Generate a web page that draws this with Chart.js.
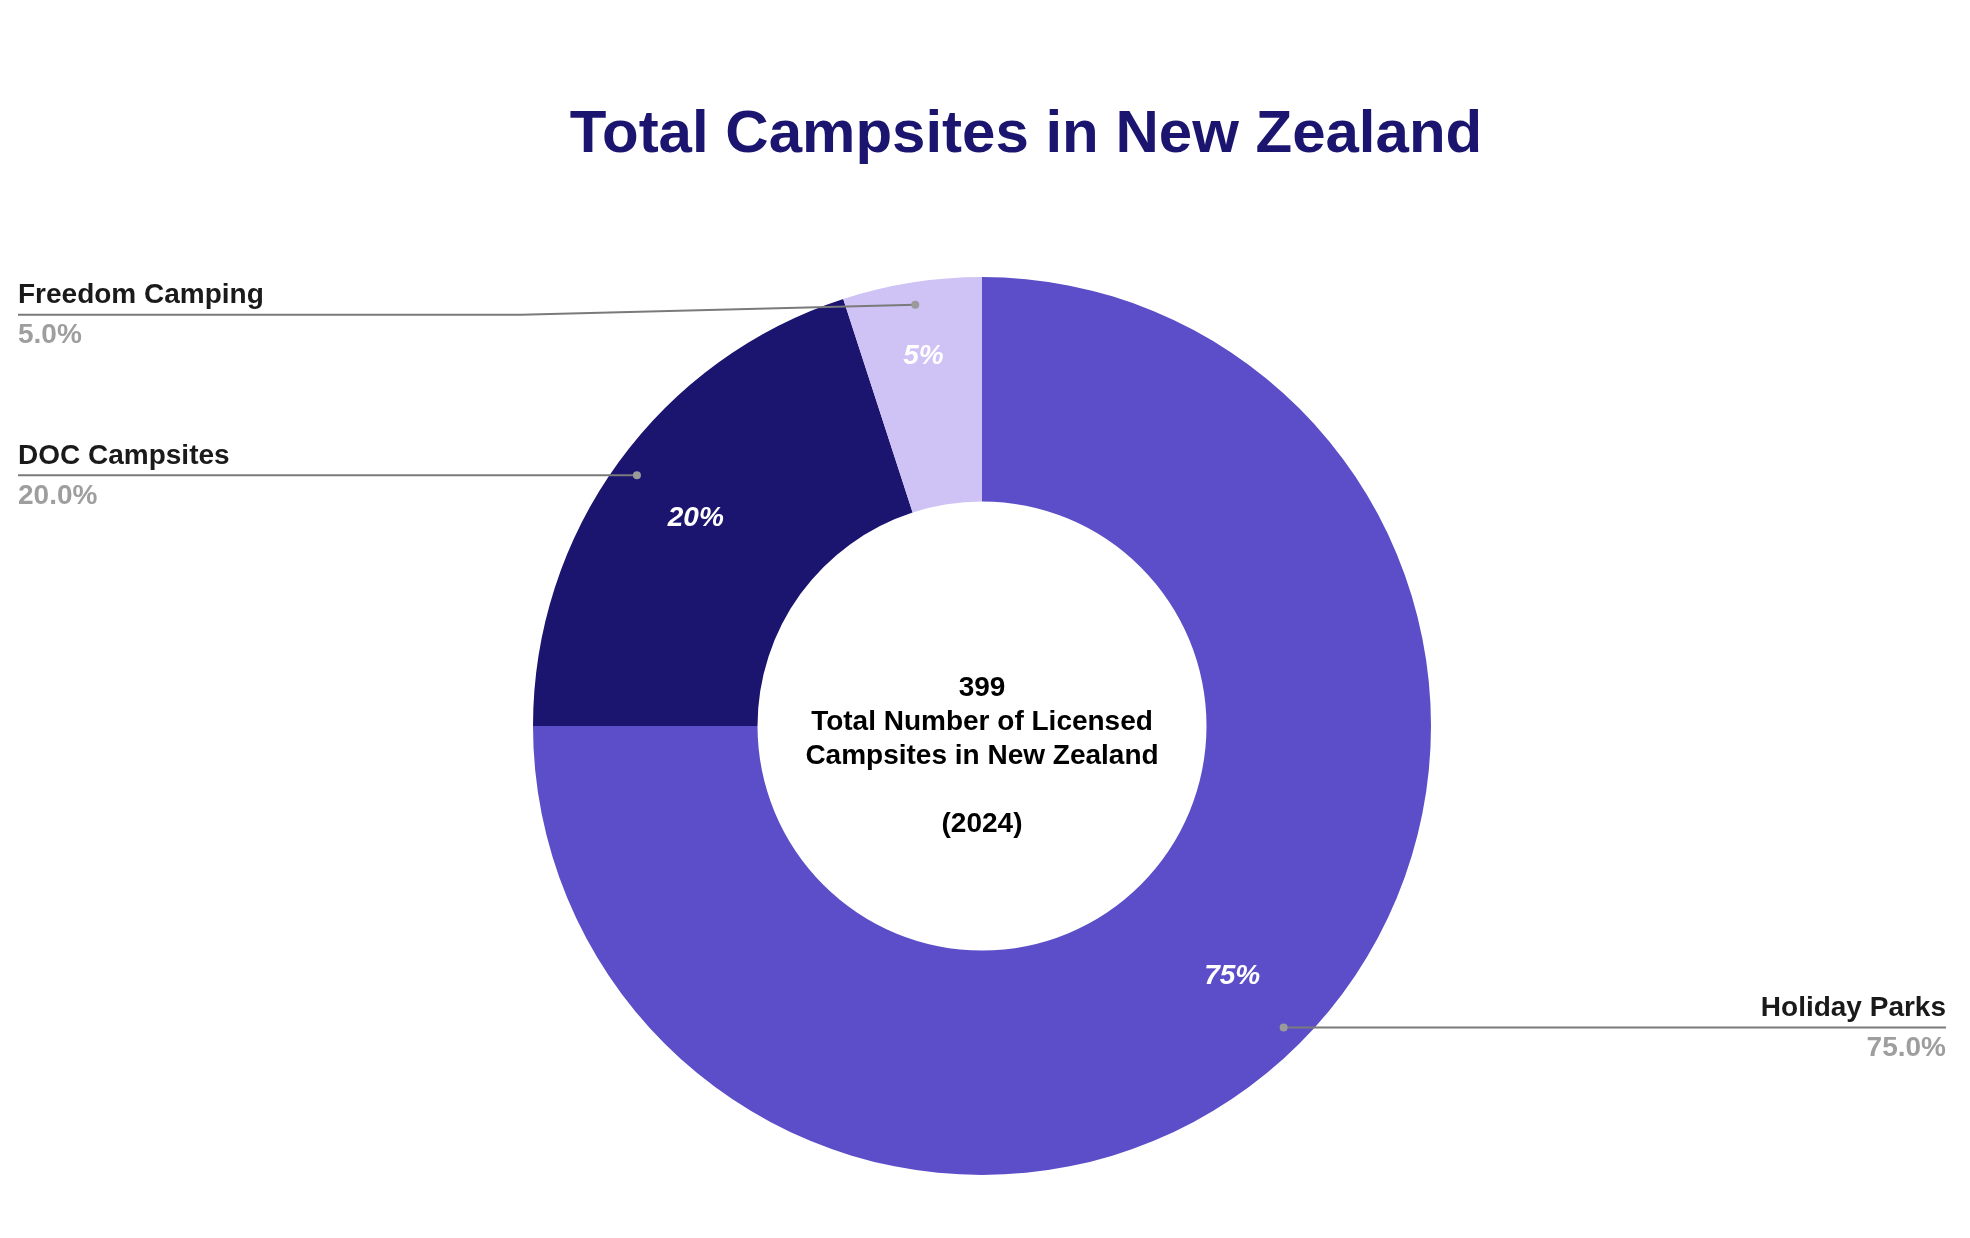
<!DOCTYPE html>
<html>
<head>
<meta charset="utf-8">
<script src="https://cdn.jsdelivr.net/npm/chart.js@4.4.1/dist/chart.umd.min.js"></script>
<style>
html,body{margin:0;padding:0;background:#fff;}
#wrap{width:1970px;height:1238px;}
</style>
</head>
<body>
<div id="wrap"><canvas id="c" width="1970" height="1238"></canvas></div>
<script>
const categories = ["Holiday Parks", "DOC Campsites", "Freedom Camping"];
const shares = [75, 20, 5];
const insideLabels = ["75%", "20%", "5%"];
const outsideLabels = ["75.0%", "20.0%", "5.0%"];
const sliceColors = ["#5b4ec8", "#1c1570", "#cfc2f5"];
const titleText = "Total Campsites in New Zealand";
const centerLines = ["399", "Total Number of Licensed", "Campsites in New Zealand", "", "(2024)"];

const FONT = '"Liberation Sans", Arial, sans-serif';

const annotate = {
  id: 'annotate',
  afterDatasetsDraw(chart) {
    const ctx = chart.ctx;
    const meta = chart.getDatasetMeta(0);
    ctx.save();
    // title
    ctx.fillStyle = '#1c1570';
    ctx.font = 'bold 60px ' + FONT;
    ctx.textAlign = 'center';
    ctx.textBaseline = 'middle';
    ctx.fillText(titleText, 1026, 135);

    const arc0 = meta.data[0];
    const cx = arc0.x, cy = arc0.y;
    const outer = arc0.outerRadius;

    // center text
    ctx.fillStyle = '#000';
    ctx.font = 'bold 28px ' + FONT;
    const lh = 34;
    const startY = cy - 38;
    centerLines.forEach((t, i) => {
      if (t) ctx.fillText(t, cx, startY + i * lh);
    });

    meta.data.forEach((arc, i) => {
      const mid = (arc.startAngle + arc.endAngle) / 2;
      // inside percentage
      const rIn = i === 2 ? outer * 0.833 : outer * 0.788;
      ctx.fillStyle = '#fff';
      ctx.font = 'italic bold 28px ' + FONT;
      ctx.textAlign = 'center';
      ctx.textBaseline = 'middle';
      ctx.fillText(insideLabels[i], cx + Math.cos(mid) * rIn, cy + Math.sin(mid) * rIn);

      // leader
      const rd = outer * 0.95;
      const dx = cx + Math.cos(mid) * rd;
      const dy = cy + Math.sin(mid) * rd;
      const right = Math.cos(mid) > 0;
      const endX = right ? 1946 : 18;
      let lineY = dy;
      ctx.strokeStyle = '#7a7a7a';
      ctx.lineWidth = 2;
      ctx.beginPath();
      ctx.moveTo(dx, dy);
      if (i === 2) {
        lineY = dy + 10;
        ctx.lineTo(521, lineY);
      }
      ctx.lineTo(endX, lineY);
      ctx.stroke();
      ctx.fillStyle = '#9a9a9a';
      ctx.beginPath();
      ctx.arc(dx, dy, 4, 0, Math.PI * 2);
      ctx.fill();

      ctx.textAlign = right ? 'right' : 'left';
      ctx.textBaseline = 'middle';
      ctx.font = 'bold 28px ' + FONT;
      ctx.fillStyle = '#1a1a1a';
      ctx.fillText(categories[i], endX, lineY - 19);
      ctx.fillStyle = '#9e9e9e';
      ctx.fillText(outsideLabels[i], endX, lineY + 21);
    });
    ctx.restore();
  }
};

new Chart(document.getElementById('c'), {
  type: 'doughnut',
  data: {
    labels: categories,
    datasets: [{
      data: shares,
      backgroundColor: sliceColors,
      borderWidth: 0,
      hoverOffset: 0
    }]
  },
  options: {
    responsive: false,
    maintainAspectRatio: false,
    devicePixelRatio: 1,
    animation: false,
    cutout: '50%',
    rotation: 0,
    layout: { padding: { top: 277, bottom: 63, left: 533, right: 539 } },
    plugins: {
      legend: { display: false },
      title: { display: false },
      tooltip: { enabled: false }
    }
  },
  plugins: [annotate]
});
</script>
</body>
</html>
